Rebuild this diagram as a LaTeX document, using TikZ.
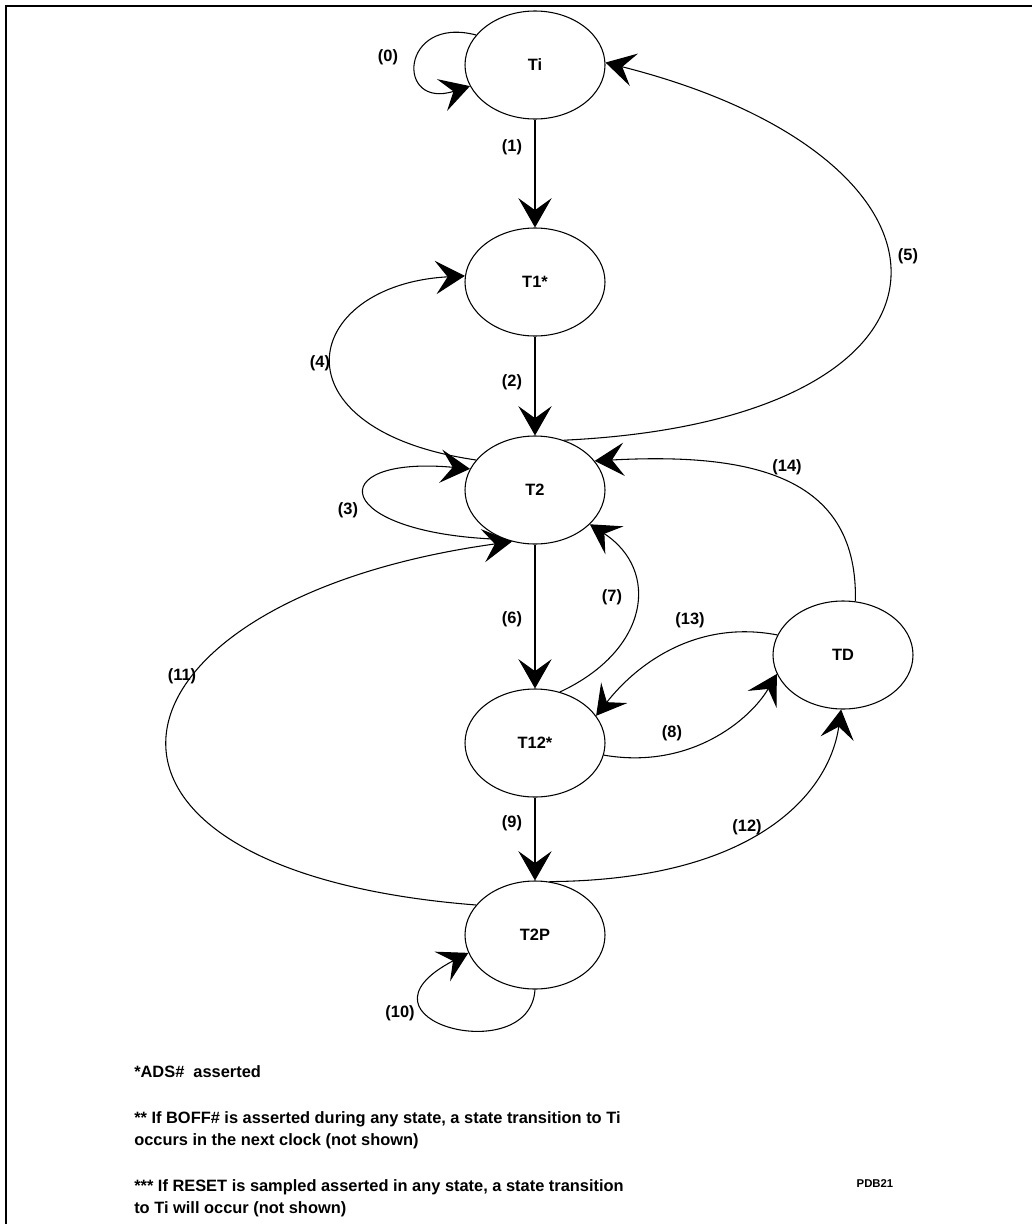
\documentclass[tikz,border=0pt]{standalone}
\usepackage{fontspec}
\setmainfont{Liberation Sans}
\usepackage{tikz}
\usetikzlibrary{shapes.geometric,arrows.meta}

\newcommand{\lblfont}{\fontsize{12.3pt}{15.8pt}\selectfont\bfseries}

\begin{document}
\begin{tikzpicture}[x=0.75pt,y=-0.75pt,
    state/.style={ellipse,draw=black,line width=0.8pt,minimum width=105pt,
                  minimum height=81pt,inner sep=0pt,font=\lblfont},
    trans/.style={line width=0.8pt,
                  -{Stealth[length=22pt,width=25pt,inset=9pt]}},
    lbl/.style={font=\lblfont,inner sep=0pt}]
  \useasboundingbox (0,0) rectangle (1032,1224);
  % Frame
  \draw[line width=2pt] (6,1224) -- (6,6) -- (1032,6);
  % States
  \node[state] (Ti)   at (535,65)  {Ti};
  \node[state] (T1)   at (535,282) {T1*};
  \node[state] (T2)   at (535,490) {T2};
  \node[state] (T12)  at (535,743) {T12*};
  \node[state] (T2P)  at (535,935) {T2P};
  \node[state] (TD)   at (843,655) {TD};
  % Transitions
  \draw[trans] (Ti.153) .. controls (400,15) and (395,110) .. (Ti.198);
  \draw[trans] (Ti.south) -- (T1.north);
  \draw[trans] (T1.south) -- (T2.north);
  \draw[trans] (T2.239) .. controls (330,535) and (320,455) .. (T2.162);
  \draw[trans] (T2.153) .. controls (270,430) and (300,285) .. (T1.175);
  \draw[trans] (T2.60) .. controls (990,420) and (990,160) .. (Ti.2);
  \draw[trans] (T2.south) -- (T12.north);
  \draw[trans] (T12.64) .. controls (650,650) and (660,570) .. (T2.328);
  \draw[trans] (T12.350) .. controls (690,770) and (750,720) .. (TD.196);
  \draw[trans] (T12.south) -- (T2P.north);
  \draw[trans] (T2P.270) .. controls (530,1070) and (340,1020) .. (T2P.195);
  \draw[trans] (T2P.153) .. controls (30,870) and (90,600) .. (T2.246);
  \draw[trans] (T2P.75) .. controls (760,880) and (830,790) .. (TD.268);
  \draw[trans] (TD.163) .. controls (700,620) and (640,660) .. (T12.24);
  \draw[trans] (TD.77) .. controls (858,480) and (760,452) .. (T2.26);
  % Labels
  \node[lbl] (l0)  at (388,57)   {(0)};
  \node[lbl] (l1)  at (512,147)  {(1)};
  \node[lbl] (l2)  at (512,382)  {(2)};
  \node[lbl] (l3)  at (348,510)  {(3)};
  \node[lbl] (l4)  at (320,363)  {(4)};
  \node[lbl] (l5)  at (908,256)  {(5)};
  \node[lbl] (l6)  at (512,619)  {(6)};
  \node[lbl] (l7)  at (612,597)  {(7)};
  \node[lbl] (l8)  at (672,733)  {(8)};
  \node[lbl] (l9)  at (512,823)  {(9)};
  \node[lbl] (l10) at (400,1013) {(10)};
  \node[lbl] (l11) at (182,676)  {(11)};
  \node[lbl] (l12) at (747,827)  {(12)};
  \node[lbl] (l13) at (690,620)  {(13)};
  \node[lbl] (l14) at (787,467)  {(14)};
  % Notes
  \node[lbl,anchor=base west] (n1) at (134,1077) {*ADS\#\ \ asserted};
  \node[lbl,anchor=base west,align=left] (n2) at (134,1145)
    {** If BOFF\# is asserted during any state, a state transition to Ti\\
     occurs in the next clock (not shown)};
  \node[lbl,anchor=base west,align=left] (n3) at (134,1213)
    {*** If RESET is sampled asserted in any state, a state transition\\
     to Ti will occur (not shown)};
  \node[inner sep=0pt,font=\fontsize{8.5pt}{10pt}\selectfont\bfseries,anchor=base]
    (pdb) at (875,1187) {PDB21};
\end{tikzpicture}
\end{document}
